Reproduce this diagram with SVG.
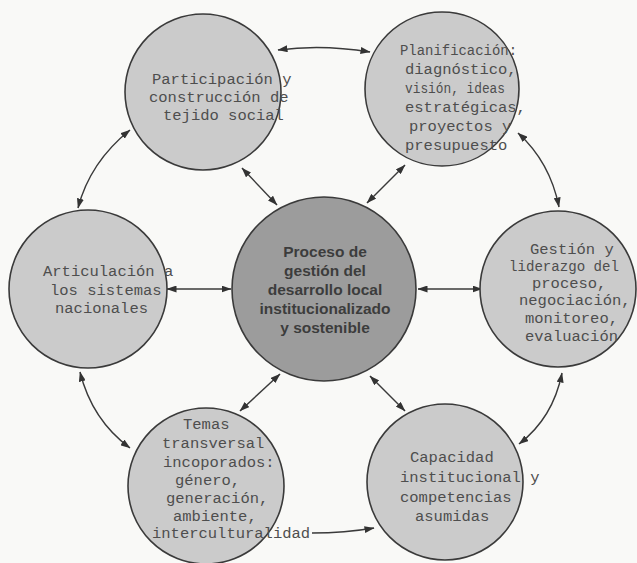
<svg xmlns="http://www.w3.org/2000/svg" width="637" height="563" viewBox="0 0 637 563">
<defs>
<marker id="ah" viewBox="0 0 10 7" refX="9.5" refY="3.5" markerWidth="10" markerHeight="7" markerUnits="userSpaceOnUse" orient="auto-start-reverse">
<path d="M0,0 L10,3.5 L0,7 Z" fill="#333"/>
</marker>
</defs>
<style>
.bg{fill:#f9f9f7}
.c{fill:#cbcbcb;stroke:#3a3a3a;stroke-width:1.6}
.cc{fill:#9c9c9c;stroke:#3a3a3a;stroke-width:1.6}
.t{font-family:"Liberation Mono","DejaVu Sans Mono",monospace;font-size:15.5px;fill:#4e4e4e}
.tc{font-family:"Liberation Sans",Arial,sans-serif;font-size:15.5px;font-weight:bold;fill:#3c3c3c;text-anchor:middle}
.k{fill:none;stroke:#3a3a3a;stroke-width:1.4}
</style>
<rect class="bg" x="0" y="0" width="637" height="563"/>

<g id="connectors">
<path class="k" d="M278,50 Q322,44 370,52" marker-start="url(#ah)" marker-end="url(#ah)"/>
<path class="k" d="M130,130 Q90,162 78,208" marker-start="url(#ah)" marker-end="url(#ah)"/>
<path class="k" d="M518,133 Q550,162 559,207" marker-start="url(#ah)" marker-end="url(#ah)"/>
<path class="k" d="M80,372 Q92,420 130,448" marker-start="url(#ah)" marker-end="url(#ah)"/>
<path class="k" d="M519,444 Q553,418 562,373" marker-start="url(#ah)" marker-end="url(#ah)"/>
<path class="k" d="M312,533 Q345,533 374,528" marker-end="url(#ah)"/>
<path class="k" d="M242,168 L277,205" marker-start="url(#ah)" marker-end="url(#ah)"/>
<path class="k" d="M405,165 L367,203" marker-start="url(#ah)" marker-end="url(#ah)"/>
<path class="k" d="M167,289 L231,289" marker-start="url(#ah)" marker-end="url(#ah)"/>
<path class="k" d="M418,289 L482,289" marker-start="url(#ah)" marker-end="url(#ah)"/>
<path class="k" d="M280,374 L240,411" marker-start="url(#ah)" marker-end="url(#ah)"/>
<path class="k" d="M370,376 L405,411" marker-start="url(#ah)" marker-end="url(#ah)"/>
</g>

<g id="participacion">
<circle class="c" cx="203" cy="92" r="78"/>
<text class="t" x="152" y="84">Participación y</text>
<text class="t" x="149" y="102">construcción de</text>
<text class="t" x="163" y="120">tejido social</text>
</g>

<g id="planificacion">
<circle class="c" cx="442" cy="89" r="77"/>
<text class="t" x="400" y="55" textLength="117" lengthAdjust="spacingAndGlyphs">Planificación:</text>
<text class="t" x="405" y="74">diagnóstico,</text>
<text class="t" x="405" y="93" textLength="100" lengthAdjust="spacingAndGlyphs">visión, ideas</text>
<text class="t" x="405" y="112">estratégicas,</text>
<text class="t" x="409" y="131">proyectos y</text>
<text class="t" x="405" y="150">presupuesto</text>
</g>

<g id="articulacion">
<circle class="c" cx="88" cy="289" r="79"/>
<text class="t" x="43" y="276">Articulación a</text>
<text class="t" x="50" y="295">los sistemas</text>
<text class="t" x="55" y="313">nacionales</text>
</g>

<g id="centro">
<circle class="cc" cx="324" cy="289" r="92"/>
<text class="tc" x="325" y="257">Proceso de</text>
<text class="tc" x="325" y="276">gestión del</text>
<text class="tc" x="325" y="295">desarrollo local</text>
<text class="tc" x="325" y="314">institucionalizado</text>
<text class="tc" x="325" y="333">y sostenible</text>
</g>

<g id="gestion">
<circle class="c" cx="558" cy="289" r="78"/>
<text class="t" x="530" y="254">Gestión y</text>
<text class="t" x="509" y="271" textLength="110" lengthAdjust="spacingAndGlyphs">liderazgo del</text>
<text class="t" x="532" y="288">proceso,</text>
<text class="t" x="519" y="305">negociación,</text>
<text class="t" x="525" y="323">monitoreo,</text>
<text class="t" x="525" y="341">evaluación</text>
</g>

<g id="temas">
<circle class="c" cx="206" cy="486" r="78"/>
<text class="t" x="183" y="429">Temas</text>
<text class="t" x="162" y="448">transversal</text>
<text class="t" x="163" y="467">incoporados:</text>
<text class="t" x="175" y="485">género,</text>
<text class="t" x="166" y="503">generación,</text>
<text class="t" x="173" y="521">ambiente,</text>
<text class="t" x="152" y="538">interculturalidad</text>
</g>

<g id="capacidad">
<circle class="c" cx="445" cy="482" r="78"/>
<text class="t" x="410" y="462">Capacidad</text>
<text class="t" x="400" y="482">institucional y</text>
<text class="t" x="400" y="502">competencias</text>
<text class="t" x="415" y="521">asumidas</text>
</g>
</svg>
